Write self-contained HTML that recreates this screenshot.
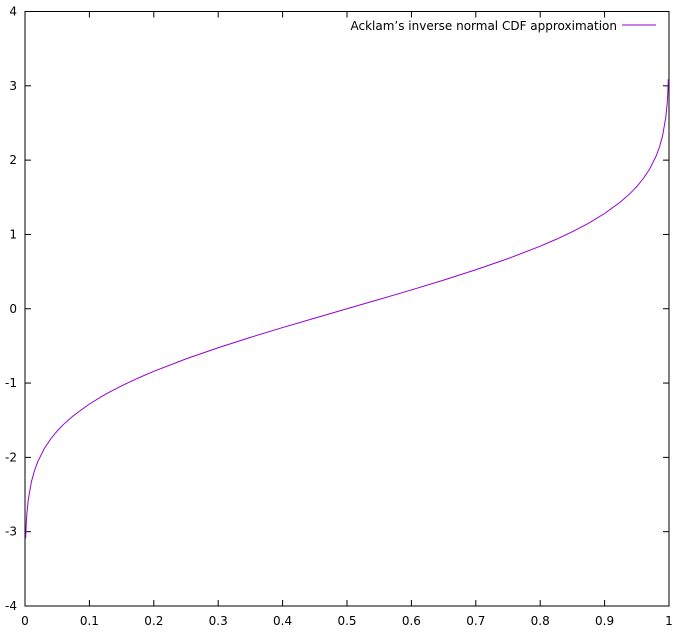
<!DOCTYPE html>
<html><head><meta charset="utf-8"><style>
body{margin:0;background:#fff}
svg{display:block;font-family:"DejaVu Sans","Liberation Sans",sans-serif;font-size:12px}
</style></head><body>
<svg id="chart" width="685" height="633" xmlns="http://www.w3.org/2000/svg">
<rect width="685" height="633" fill="#fff"/>
<g id="axes"></g>
<g id="series"></g>
<g>
<text x="617" y="30" text-anchor="end">Acklam’s inverse normal CDF approximation</text>
<line x1="622" y1="25" x2="656" y2="25" stroke="#9400d3" stroke-width="1"/>
</g>
</svg>
<script>
const probs=[0.001,0.002,0.003,0.005,0.01,0.015,0.02,0.03,0.04,0.05,0.06,0.075,0.1,0.125,0.15,0.175,0.2,0.25,0.3,0.35,0.4,0.45,0.5,0.55,0.6,0.65,0.7,0.75,0.8,0.825,0.85,0.875,0.9,0.925,0.94,0.95,0.96,0.97,0.98,0.985,0.99,0.995,0.997,0.998,0.999];
const zvals=[-3.09,-2.878,-2.748,-2.576,-2.326,-2.17,-2.054,-1.881,-1.751,-1.645,-1.555,-1.44,-1.2816,-1.15,-1.0364,-0.935,-0.8416,-0.6745,-0.5244,-0.3853,-0.2533,-0.1257,0,0.1257,0.2533,0.3853,0.5244,0.6745,0.8416,0.935,1.0364,1.15,1.2816,1.44,1.555,1.645,1.751,1.881,2.054,2.17,2.326,2.576,2.748,2.878,3.09];
const xTicks=[0,0.1,0.2,0.3,0.4,0.5,0.6,0.7,0.8,0.9,1];
const yTicks=[-4,-3,-2,-1,0,1,2,3,4];
const L=25,R=669,T=11.5,B=606;
const xs=v=>L+(R-L)*v;
const ys=v=>B-(B-T)*(v+4)/8;
const NS="http://www.w3.org/2000/svg";
const ax=document.getElementById('axes');
function mk(tag,attrs,parent){const e=document.createElementNS(NS,tag);for(const k in attrs)e.setAttribute(k,attrs[k]);parent.appendChild(e);return e;}
const frame=mk('rect',{x:L,y:T,width:R-L,height:B-T,fill:'none',stroke:'#000','stroke-width':1},ax);


xTicks.forEach(v=>{
 const x=xs(v);
 const t1=mk('line',{x1:x,y1:B,x2:x,y2:B-6,stroke:'#000'},ax);
 
 
 const t2=mk('line',{x1:x,y1:T,x2:x,y2:T+6,stroke:'#000'},ax);
 
 
 const tx=mk('text',{x:x,y:625,'text-anchor':'middle'},ax);
 tx.textContent=String(v);
 
 
});
yTicks.forEach(v=>{
 const y=ys(v);
 const t1=mk('line',{x1:L,y1:y,x2:L+6,y2:y,stroke:'#000'},ax);
 
 
 const t2=mk('line',{x1:R,y1:y,x2:R-6,y2:y,stroke:'#000'},ax);
 
 
 const tx=mk('text',{x:17,y:y+4,'text-anchor':'end'},ax);
 tx.textContent=String(v);
 
 
});
const pts=probs.map((p,i)=>xs(p).toFixed(2)+','+ys(zvals[i]).toFixed(2)).join(' ');
const pl=mk('polyline',{points:pts,fill:'none',stroke:'#9400d3','stroke-width':1},document.getElementById('series'));


</script>
</body></html>
